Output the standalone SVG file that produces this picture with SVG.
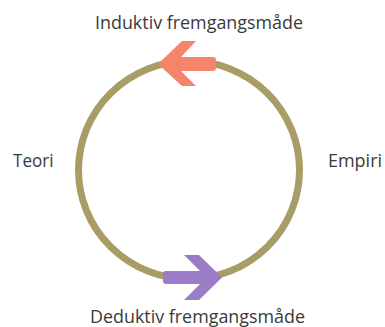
<svg xmlns="http://www.w3.org/2000/svg" width="385" height="327" viewBox="0 0 385 327">
<style>
.lbl{font-family:"Open Sans","Noto Sans","Liberation Sans",sans-serif;font-size:18px;fill:#3a3a3a}
.ring{fill:none;stroke:#a89d66;stroke-width:7}
</style>
<rect width="385" height="327" fill="#ffffff"/>
<g id="connectors">
<ellipse class="ring" cx="189" cy="170" rx="110.5" ry="109"/>
<path id="arrow-induktiv" fill="#f4856b" d="M158,64 L182,41 L196,41 L181,57 L213,57 Q216,57 216,60 L216,68 Q216,71 213,71 L181,71 L196,86 L182,86 Z"/>
<path id="arrow-deduktiv" fill="#9a7dc6" d="M222,277.5 L199,255 L184,255 L200,271 L166,271 Q163,271 163,274 L163,281 Q163,284 166,284 L200,284 L184,300 L199,300 Z"/>
</g>
<g id="node-induktiv"><text class="lbl" x="199" y="29" text-anchor="middle" textLength="208" lengthAdjust="spacingAndGlyphs">Induktiv fremgangsmåde</text></g>
<g id="node-deduktiv"><text class="lbl" x="197.5" y="322.5" text-anchor="middle" textLength="215" lengthAdjust="spacingAndGlyphs">Deduktiv fremgangsmåde</text></g>
<g id="node-teori"><text class="lbl" x="13" y="166.5" textLength="40.5" lengthAdjust="spacingAndGlyphs">Teori</text></g>
<g id="node-empiri"><text class="lbl" x="328" y="166.5" textLength="54" lengthAdjust="spacingAndGlyphs">Empiri</text></g>
</svg>
